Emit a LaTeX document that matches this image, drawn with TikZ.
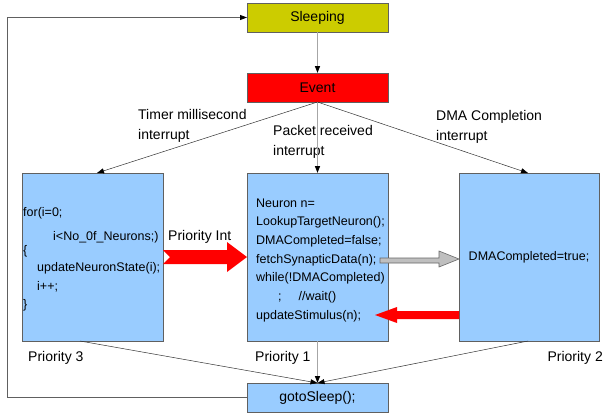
\documentclass[tikz,border=0pt]{standalone}
\usepackage{fontspec}
\setmainfont{Liberation Sans}
\usetikzlibrary{arrows.meta}
\definecolor{olive}{HTML}{CCCC00}
\definecolor{skyblue}{HTML}{99CCFF}
\definecolor{edge}{HTML}{606060}

\begin{document}
\begin{tikzpicture}[x=1pt,y=-1pt,
        box/.style={draw=edge,outer sep=0pt,minimum width=141pt},
        tall/.style={box,fill=skyblue,minimum height=168pt},
        lbl/.style={font=\fontsize{14}{20}\selectfont,align=left,inner sep=0pt},
        code/.style={font=\fontsize{12.5}{15}\selectfont,inner sep=0pt,anchor=west},
        tip/.style={-{Triangle[length=7pt,width=5pt,black]}},
        thin/.style={tip,draw=black!80,line width=.5pt},
        thick/.style={tip,draw=black!35,line width=1.3pt}]
    \useasboundingbox (0,0) rectangle (603,413);
    \node[box,fill=olive,minimum height=29pt,font=\fontsize{14}{17}\selectfont] (sleep) at (317.5,17.5) {Sleeping};
    \node[box,fill=red,minimum height=29pt,font=\fontsize{14}{17}\selectfont] (event) at (317.5,87.5) {Event};
    \node[tall] (timer) at (92.5,257) {};
    \node[tall] (packet) at (317.5,257) {};
    \node[tall,minimum width=140pt] (dma) at (529,257) {};
    \node[box,fill=skyblue,minimum height=29pt,font=\fontsize{14}{17}\selectfont] (goto) at (317.5,397.5) {gotoSleep();};
    \foreach \x/\y/\t[count=\i] in {
            23/213/{for(i=0;},
            53/237/{i<No\_0f\_Neurons;)},
            23/251/{\{},
            37/268/{updateNeuronState(i);},
            37/287/{i++;},
            23/305/{\}}}
        \node[code] (loopcode\i) at (\x,\y) {\t};
    \foreach \x/\y/\t[count=\i] in {
            256/203/{Neuron n=},
            256/222/{LookupTargetNeuron();},
            256/241/{DMACompleted=false;},
            256/260/{fetchSynapticData(n);},
            256/278/{while(!DMACompleted)},
            278/297/{;\hspace{17pt}//wait()},
            256/316/{updateStimulus(n);}}
        \node[code] (fetchcode\i) at (\x,\y) {\t};
    \node[code,anchor=center] (dmacode) at (dma) {DMACompleted=true;};
    \node[lbl,anchor=west] (timerlbl) at (138,126) {Timer millisecond\\interrupt};
    \node[lbl,anchor=west] (packetlbl) at (273,141.5) {Packet received\\interrupt};
    \node[lbl,anchor=west] (dmalbl) at (436,127) {DMA Completion\\interrupt};
    \node[lbl,anchor=west] (prio3) at (28,358) {Priority 3};
    \node[lbl,anchor=west] (prio1) at (255,358) {Priority 1};
    \node[lbl,anchor=east] (prio2) at (603,358) {Priority 2};
    \node[lbl,anchor=west] (prioint) at (168,237) {Priority Int};
    \coordinate (back) at (7,0);
    \draw[thick] (sleep) -- (event);
    \draw[thin] (event.south) -- ([xshift=4.5pt]timer.north);
    \draw[thick] (event.south) -- (packet.north);
    \draw[thin] (event.south) -- ([xshift=-1pt]dma.north);
    \draw[thin] ([xshift=-12.5pt]timer.south) -- (goto.north);
    \draw[thick] (packet.south) -- (goto.north);
    \draw[thin] ([xshift=-1pt]dma.south) -- (goto.north);
    \draw[tip,draw=edge,line width=.8pt] (goto.west) -- (goto.west -| back) -- (sleep.west -| back) -- (sleep.west);
    \fill[red] (timer.east |- 0,250) -- (227,250) -- (227,242) -- (packet.west |- 0,257) -- (227,272)
        -- (227,264) -- (timer.east |- 0,264) -- (170,257) -- cycle;
    \filldraw[fill=black!25,draw=black!60,line width=.6pt] (380,258) -- (439,258) -- (439,251) -- (dma.west |- 0,259)
        -- (439,267) -- (439,263) -- (380,263) -- cycle;
    \fill[red] (dma.west |- 0,311) -- (397,311) -- (397,307) -- (375,315) -- (397,323) -- (397,319)
        -- (dma.west |- 0,319) -- cycle;
\end{tikzpicture}
\end{document}
